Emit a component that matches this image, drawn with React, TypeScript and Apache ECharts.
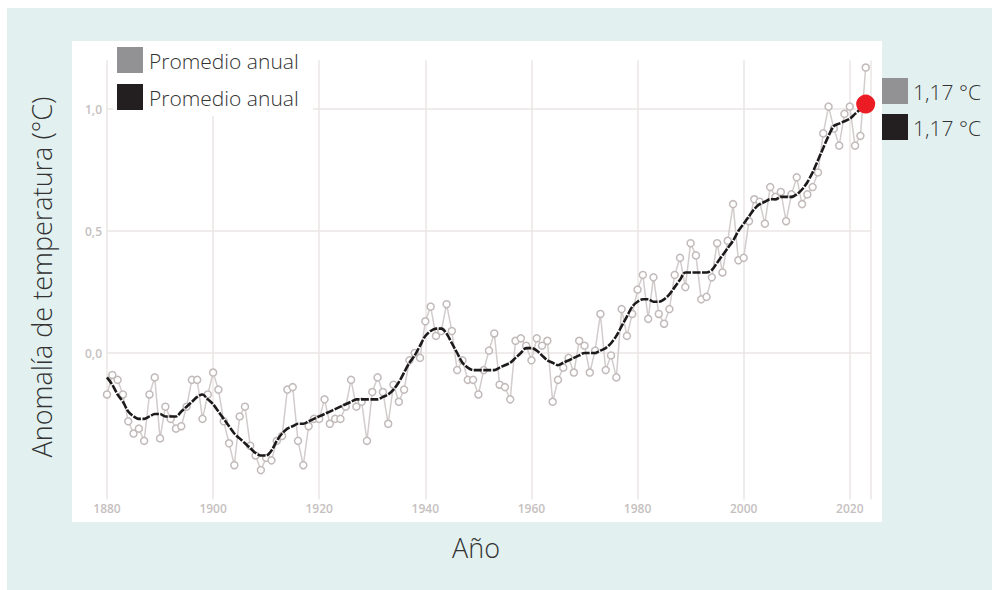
import React, { useEffect, useRef } from "react";
import * as echarts from "echarts";

const startYear = 1880;
const annualMean = [
  -0.17, -0.09, -0.11, -0.17, -0.28, -0.33, -0.31, -0.36, -0.17, -0.10,
  -0.35, -0.22, -0.27, -0.31, -0.30, -0.22, -0.11, -0.11, -0.27, -0.17,
  -0.08, -0.15, -0.28, -0.37, -0.46, -0.26, -0.22, -0.38, -0.42, -0.48,
  -0.43, -0.44, -0.36, -0.34, -0.15, -0.14, -0.36, -0.46, -0.30, -0.27,
  -0.27, -0.19, -0.29, -0.27, -0.27, -0.22, -0.11, -0.22, -0.20, -0.36,
  -0.16, -0.10, -0.16, -0.29, -0.13, -0.20, -0.15, -0.03, -0.00, -0.02,
  0.13, 0.19, 0.07, 0.09, 0.20, 0.09, -0.07, -0.03, -0.11, -0.11,
  -0.17, -0.07, 0.01, 0.08, -0.13, -0.14, -0.19, 0.05, 0.06, 0.03,
  -0.03, 0.06, 0.03, 0.05, -0.20, -0.11, -0.06, -0.02, -0.08, 0.05,
  0.03, -0.08, 0.01, 0.16, -0.07, -0.01, -0.10, 0.18, 0.07, 0.16,
  0.26, 0.32, 0.14, 0.31, 0.16, 0.12, 0.18, 0.32, 0.39, 0.27,
  0.45, 0.40, 0.22, 0.23, 0.31, 0.45, 0.33, 0.46, 0.61, 0.38,
  0.39, 0.54, 0.63, 0.62, 0.53, 0.68, 0.64, 0.66, 0.54, 0.65,
  0.72, 0.61, 0.65, 0.68, 0.74, 0.90, 1.01, 0.92, 0.85, 0.98,
  1.01, 0.85, 0.89, 1.17,
];
const smoothed = [
  -0.10, -0.13, -0.17, -0.20, -0.24, -0.26, -0.27, -0.27, -0.26, -0.25,
  -0.25, -0.26, -0.26, -0.26, -0.24, -0.22, -0.20, -0.18, -0.17, -0.19,
  -0.21, -0.24, -0.27, -0.30, -0.33, -0.35, -0.37, -0.39, -0.41, -0.42,
  -0.42, -0.40, -0.36, -0.33, -0.31, -0.30, -0.29, -0.29, -0.28, -0.27,
  -0.26, -0.25, -0.24, -0.23, -0.22, -0.21, -0.20, -0.19, -0.19, -0.19,
  -0.19, -0.19, -0.18, -0.17, -0.15, -0.12, -0.08, -0.04, -0.01, 0.03,
  0.07, 0.09, 0.10, 0.10, 0.08, 0.04, 0.00, -0.04, -0.06, -0.07,
  -0.07, -0.07, -0.07, -0.07, -0.06, -0.05, -0.04, -0.02, 0.00, 0.02,
  0.02, 0.01, -0.01, -0.03, -0.04, -0.05, -0.04, -0.03, -0.02, -0.01,
  0.00, 0.00, 0.00, 0.01, 0.02, 0.04, 0.07, 0.11, 0.15, 0.19,
  0.21, 0.22, 0.22, 0.21, 0.21, 0.22, 0.24, 0.27, 0.30, 0.33,
  0.33, 0.33, 0.33, 0.33, 0.34, 0.37, 0.40, 0.43, 0.46, 0.50,
  0.53, 0.56, 0.59, 0.61, 0.62, 0.63, 0.63, 0.64, 0.64, 0.64,
  0.65, 0.67, 0.70, 0.74, 0.79, 0.84, 0.89, 0.93, 0.94, 0.95,
  0.96, 0.98, 1.00, 1.02,
];
const years = annualMean.map((_, i) => startYear + i);
const yTicks = [0, 0.5, 1.0];
const legendLabels = ["Promedio anual", "Promedio anual"];
const latestLabels = ["1,17 °C", "1,17 °C"];
const yAxisTitle = "Anomalía de temperatura (°C)";
const xAxisTitle = "Año";

const FONT = "'Open Sans', 'Noto Sans', sans-serif";
const GRAY_SWATCH = "#929295";
const BLACK_SWATCH = "#231f20";

export default function App() {
  const ref = useRef<HTMLDivElement>(null);
  useEffect(() => {
    if (!ref.current) return;
    const chart = echarts.init(ref.current, null, { renderer: "svg" });
    const lastIdx = years.length - 1;
    chart.setOption({
      animation: false,
      backgroundColor: "transparent",
      grid: { left: 107, right: 121, top: 60.2, bottom: 90.6, containLabel: false },
      xAxis: {
        type: "value",
        min: 1880,
        max: 2024,
        interval: 20,
        axisLine: { show: false },
        axisTick: { show: false },
        axisLabel: {
          margin: 3,
          color: "#c6bfbf",
          fontSize: 12,
          fontFamily: FONT,
          fontWeight: 600,
          formatter: (v: number) => String(v),
        },
        splitLine: { show: true, lineStyle: { color: "#ebe6e6", width: 1.5 } },
      },
      yAxis: {
        type: "value",
        min: -0.6,
        max: 1.2,
        axisLine: { show: false },
        axisTick: { show: false, customValues: yTicks },
        axisLabel: {
          customValues: yTicks,
          margin: 5,
          color: "#c6bfbf",
          fontSize: 12,
          fontFamily: FONT,
          fontWeight: 600,
          formatter: (v: number) => v.toFixed(1).replace(".", ","),
        },
        splitLine: { show: true, lineStyle: { color: "#ebe6e6", width: 1.5 } },
      },
      series: [
        {
          type: "line",
          data: years.map((y, i) => [y, annualMean[i]]),
          symbol: "circle",
          symbolSize: 7,
          showSymbol: true,
          lineStyle: { color: "#d2cccc", width: 1.5 },
          itemStyle: { color: "#ffffff", borderColor: "#c2baba", borderWidth: 1.5 },
          z: 2,
        },
        {
          type: "line",
          data: years.map((y, i) => [y, smoothed[i]]),
          symbol: "none",
          smooth: 0.3,
          lineStyle: { color: "#1c1a1a", width: 2.6, type: [8, 1.5] },
          z: 3,
        },
        {
          type: "scatter",
          data: [[years[lastIdx], smoothed[lastIdx]]],
          symbol: "circle",
          symbolSize: 19,
          itemStyle: { color: "#ec1c24", opacity: 1 },
          z: 5,
        },
      ],
      graphic: [
        { type: "rect", z: 50, shape: { x: 113, y: 42, width: 200, height: 74 }, style: { fill: "#ffffff" } },
        { type: "rect", z: 51, shape: { x: 117, y: 47, width: 26, height: 26 }, style: { fill: GRAY_SWATCH } },
        { type: "rect", z: 51, shape: { x: 117, y: 84, width: 26, height: 26 }, style: { fill: BLACK_SWATCH } },
        {
          type: "text", z: 51, x: 149, y: 61,
          style: { text: legendLabels[0], fontSize: 21, fontFamily: FONT, fontWeight: 300, fill: "#333333", textVerticalAlign: "middle" },
        },
        {
          type: "text", z: 51, x: 149, y: 98,
          style: { text: legendLabels[1], fontSize: 21, fontFamily: FONT, fontWeight: 300, fill: "#333333", textVerticalAlign: "middle" },
        },
        { type: "rect", z: 51, shape: { x: 882, y: 78, width: 26, height: 26 }, style: { fill: GRAY_SWATCH } },
        { type: "rect", z: 51, shape: { x: 882, y: 114, width: 26, height: 26 }, style: { fill: BLACK_SWATCH } },
        {
          type: "text", z: 51, x: 913, y: 92,
          style: { text: latestLabels[0], fontSize: 21, fontFamily: FONT, fontWeight: 300, fill: "#333333", textVerticalAlign: "middle" },
        },
        {
          type: "text", z: 51, x: 913, y: 128,
          style: { text: latestLabels[1], fontSize: 21, fontFamily: FONT, fontWeight: 300, fill: "#333333", textVerticalAlign: "middle" },
        },
        {
          type: "text", z: 51, x: 41, y: 277, rotation: Math.PI / 2,
          style: { text: yAxisTitle, fontSize: 27, fontFamily: FONT, fontWeight: 300, fill: "#333333", textAlign: "center", textVerticalAlign: "middle" },
        },
        {
          type: "text", z: 51, x: 476, y: 547,
          style: { text: xAxisTitle, fontSize: 27, fontFamily: FONT, fontWeight: 300, fill: "#333333", textAlign: "center", textVerticalAlign: "middle" },
        },
      ],
    });
    return () => chart.dispose();
  }, []);

  return (
    <div style={{ position: "absolute", left: 0, top: 0, width: 992, height: 590, background: "#ffffff", overflow: "hidden" }}>
      <div style={{ position: "absolute", left: 7, top: 8, width: 985, height: 582, background: "#e2f1f0" }} />
      <div style={{ position: "absolute", left: 72, top: 41, width: 810, height: 481, background: "#ffffff" }} />
      <div ref={ref} style={{ position: "absolute", left: 0, top: 0, width: 992, height: 590 }} />
    </div>
  );
}
